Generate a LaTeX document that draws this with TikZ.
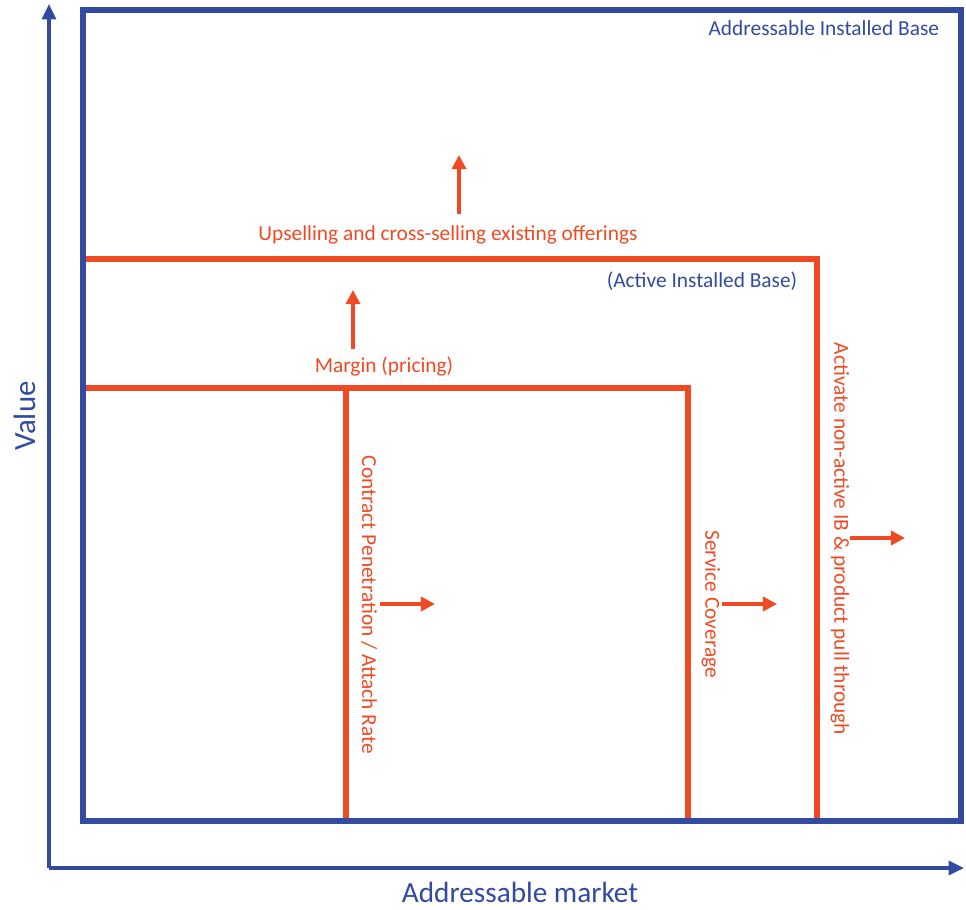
\documentclass[tikz,border=0pt]{standalone}
\usepackage{fontspec}
\setmainfont{Carlito}
\usepackage{xcolor}
\usetikzlibrary{arrows.meta}
\definecolor{ibblue}{RGB}{50,74,160}
\definecolor{ibred}{RGB}{240,74,36}

\begin{document}
\begin{tikzpicture}[x=0.025cm, y=-0.025cm,
    axis/.style={ibblue, line width=2.2pt, -{Triangle[length=11pt, width=10pt]}},
    push/.style={ibred, line width=2.4pt, -{Triangle[length=10pt, width=10pt]}},
    redtxt/.style={ibred, font=\fontsize{15.2pt}{17pt}\selectfont},
    bluetxt/.style={ibblue, font=\fontsize{15.2pt}{17pt}\selectfont}]
\useasboundingbox (0,0) rectangle (966,909);

% Axes
\coordinate (origin) at (49,868);
\coordinate (ytip) at (49,4);
\coordinate (xtip) at (964,868);
\draw[axis] (origin) -- (ytip);
\draw[axis] (origin) -- (xtip);
\node[ibblue, rotate=90, font=\fontsize{22pt}{24pt}\selectfont] (valuelbl) at (25,416) {Value};
\node[ibblue, inner sep=0pt, anchor=base, font=\fontsize{20.8pt}{23pt}\selectfont] (marketlbl) at (520,902) {Addressable market};

% Active installed base and inner segments
\draw[ibred, line width=3.6pt] (82,259) -- (817,259) -- (817,821);
\draw[ibred, line width=3.6pt] (82,388) -- (688,388) -- (688,821);
\draw[ibred, line width=3.6pt] (346,388) -- (346,821);

% Addressable installed base
\draw[ibblue, line width=4.3pt] (83,10) rectangle (961,821);
\node[bluetxt, anchor=east] (aib) at (944,28) {Addressable Installed Base};
\node[bluetxt] (active) at (702,281) {(Active Installed Base)};

% Levers
\node[redtxt] (upsell) at (448,235) {Upselling and cross-selling existing offerings};
\coordinate (upsell0) at (459,214);
\coordinate (upsell1) at (459,155);
\draw[push] (upsell0) -- (upsell1);

\node[redtxt] (margin) at (384,367) {Margin (pricing)};
\coordinate (margin0) at (353,349);
\coordinate (margin1) at (353,290);
\draw[push] (margin0) -- (margin1);

\node[redtxt, rotate=-90] (contract) at (369,605) {Contract Penetration / Attach Rate};
\coordinate (contract0) at (380,604);
\coordinate (contract1) at (435,604);
\draw[push] (contract0) -- (contract1);

\node[redtxt, rotate=-90] (coverage) at (711,604) {Service Coverage};
\coordinate (coverage0) at (722,604);
\coordinate (coverage1) at (777,604);
\draw[push] (coverage0) -- (coverage1);

\node[redtxt, rotate=-90] (activate) at (840,539) {Activate non-active IB \& product pull through};
\coordinate (activate0) at (850,538);
\coordinate (activate1) at (905,538);
\draw[push] (activate0) -- (activate1);
\end{tikzpicture}
\end{document}
